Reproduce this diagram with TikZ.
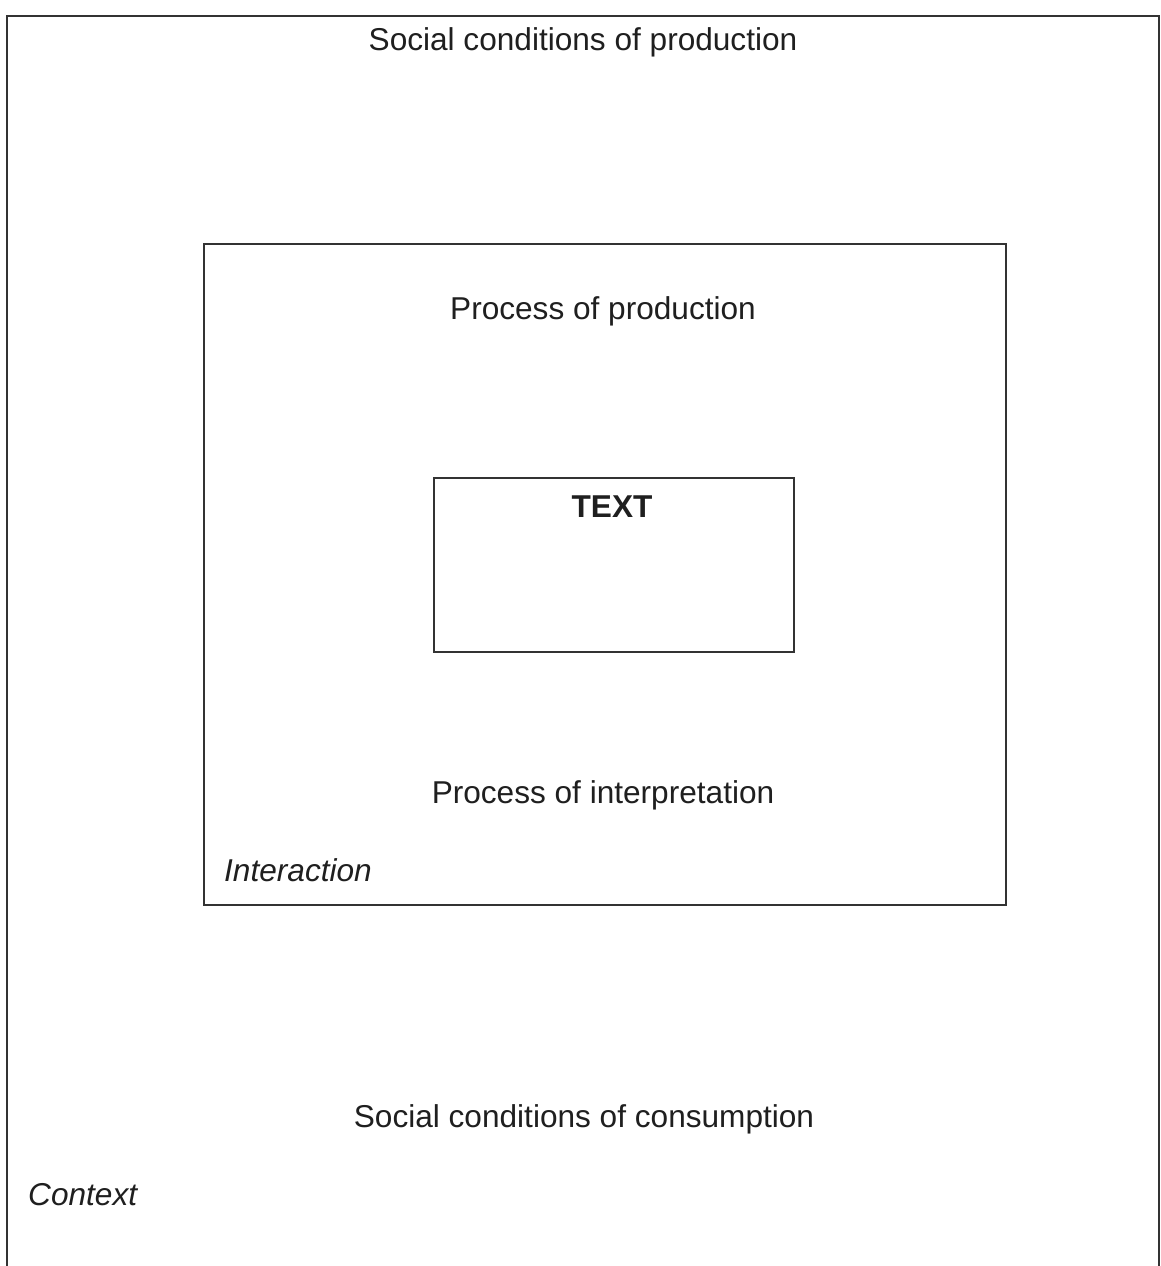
\documentclass[tikz,border=0pt]{standalone}
\usepackage{fontspec}
\setmainfont{Liberation Sans}
\begin{document}
\begin{tikzpicture}[x=1pt,y=-1pt,
  frame/.style={draw=black!80, line width=1.6pt, inner sep=0pt, fill=none},
  lbl/.style={font=\fontsize{31.6}{36}\selectfont, text=black!88, inner sep=0pt, anchor=base},
  lbli/.style={lbl, font=\fontsize{31.6}{36}\selectfont\itshape, anchor=base west},
  lblb/.style={lbl, font=\fontsize{31.6}{36}\selectfont\bfseries}]
\useasboundingbox (0,0) rectangle (1160,1266);
\fill[white] (0,0) rectangle (1160,1266);
% boxes
\node[frame, minimum width=1152pt, minimum height=1260pt, anchor=north west] (context) at (6,15) {};
\node[frame, minimum width=802pt, minimum height=661pt, anchor=north west] (interaction) at (203,243) {};
\node[frame, minimum width=360pt, minimum height=174pt, anchor=north west] (textbox) at (433,477) {};
% labels
\node[lbl] (scp) at (583,50) {Social conditions of production};
\node[lbl] (pp) at (603,319) {Process of production};
\node[lblb] (txt) at (612,517) {TEXT};
\node[lbl] (pi) at (603,803) {Process of interpretation};
\node[lbli] (inter) at (224,881) {Interaction};
\node[lbl] (scc) at (584,1127) {Social conditions of consumption};
\node[lbli] (ctx) at (28,1205) {Context};
\end{tikzpicture}
\end{document}
